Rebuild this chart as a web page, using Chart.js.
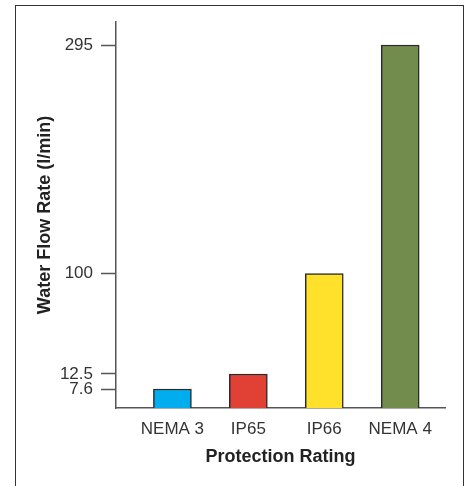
<!DOCTYPE html>
<html lang="en">
  <head>
    <meta charset="UTF-8" />
    <script src="https://cdn.jsdelivr.net/npm/chart.js@4.4.1/dist/chart.umd.min.js"></script>
    <title>Water Flow Rate</title>
    <style>
      body { margin: 0; background: #fff; }
      #frame {
        position: absolute; left: 15px; top: 5px;
        width: 447px; height: 600px;
        border: 1px solid #333;
      }
      #chart { position: absolute; left: 0; top: 0; }
    </style>
  </head>
  <body>
    <div id="frame"></div>
    <canvas id="chart" width="471" height="486"></canvas>
    <script>
      const categories = ["NEMA 3", "IP65", "IP66", "NEMA 4"];
      const flowRates = [7.6, 12.5, 100, 295];
      const yTicks = [7.6, 12.5, 100, 295];
      const barColors = ["#00aeef", "#e04134", "#ffe12b", "#728c4e"];

      // the original axis is not linear: each tick sits at its own height
      // (value, fraction of axis height)
      const yStops = [[0, 0], [7.6, 0.0492], [12.5, 0.0881], [100, 0.3484], [295, 0.9404], [315, 1]];

      class StopScale extends Chart.LinearScale {
        getPixelForValue(value) {
          let i = 1;
          while (i < yStops.length - 1 && value > yStops[i][0]) i++;
          const [v0, f0] = yStops[i - 1];
          const [v1, f1] = yStops[i];
          return this.getPixelForDecimal(f0 + (value - v0) / (v1 - v0) * (f1 - f0));
        }
        getValueForPixel(pixel) {
          const d = this.getDecimalForPixel(pixel);
          let i = 1;
          while (i < yStops.length - 1 && d > yStops[i][1]) i++;
          const [v0, f0] = yStops[i - 1];
          const [v1, f1] = yStops[i];
          return v0 + (d - f0) / (f1 - f0) * (v1 - v0);
        }
      }
      StopScale.id = "stops";
      StopScale.defaults = Chart.LinearScale.defaults;
      Chart.register(StopScale);

      const ctx = document.getElementById("chart").getContext("2d");

      new Chart(ctx, {
        type: "bar",
        data: {
          datasets: [
            {
              data: flowRates.map((v, i) => ({ x: i, y: v })),
              backgroundColor: barColors,
              borderColor: "#2a2a2a",
              borderWidth: 1.5,
              borderSkipped: "bottom",
              barThickness: 38,
            },
          ],
        },
        options: {
          responsive: false,
          animation: false,
          devicePixelRatio: 1,
          layout: { padding: { left: 20, top: 22, right: 26, bottom: 0 } },
          plugins: { legend: { display: false }, tooltip: { enabled: false } },
          scales: {
            x: {
              type: "linear",
              min: -0.743,
              max: 3.59,
              offset: false,
              afterFit: (s) => { s.height = 78; },
              afterBuildTicks: (s) => { s.ticks = categories.map((c, i) => ({ value: i })); },
              grid: { display: false, offset: false },
              border: { color: "#555", width: 1.5 },
              ticks: {
                autoSkip: false,
                maxRotation: 0,
                padding: 3,
                color: "#333",
                font: { family: "Liberation Sans, Arial, sans-serif", size: 17 },
                callback: (v) => categories[v],
              },
              title: {
                display: true,
                text: "Protection Rating",
                color: "#222",
                padding: { top: 0, bottom: 18 },
                font: { family: "Liberation Sans, Arial, sans-serif", size: 18, weight: "bold" },
              },
            },
            y: {
              type: "stops",
              min: 0,
              max: 315,
              afterFit: (s) => { s.width = 96; },
              afterBuildTicks: (s) => { s.ticks = yTicks.map((v) => ({ value: v })); },
              grid: { drawOnChartArea: false, drawTicks: true, tickLength: 15, tickColor: "#555", tickWidth: 1.5 },
              border: { color: "#555", width: 1.5 },
              ticks: {
                autoSkip: false,
                padding: 8,
                color: "#333",
                font: { family: "Liberation Sans, Arial, sans-serif", size: 17 },
                callback: (v) => String(v),
              },
              title: {
                display: true,
                text: "Water Flow Rate (l/min)",
                color: "#222",
                padding: { top: 14, bottom: 0 },
                font: { family: "Liberation Sans, Arial, sans-serif", size: 18, weight: "bold" },
              },
            },
          },
        },
      });
    </script>
  </body>
</html>
